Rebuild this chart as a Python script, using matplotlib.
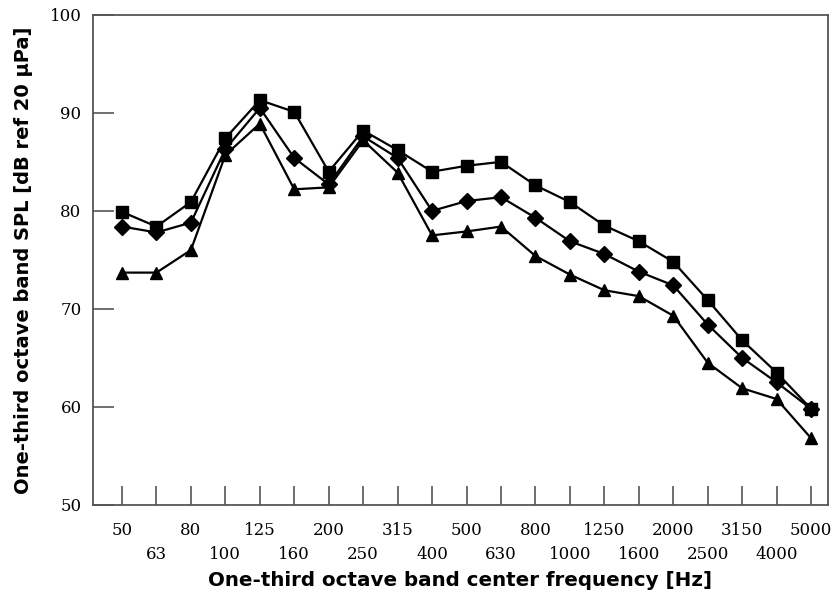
import matplotlib.pyplot as plt

# one-third octave band centre frequencies [Hz]
bands = ["50", "63", "80", "100", "125", "160", "200", "250", "315", "400",
         "500", "630", "800", "1000", "1250", "1600", "2000", "2500", "3150",
         "4000", "5000"]

# band SPL for the three conditions [dB ref 20 uPa]
spl_square = [79.9, 78.4, 80.9, 87.4, 91.3, 90.1, 84.0, 88.2, 86.2, 84.0,
              84.6, 85.0, 82.6, 80.9, 78.5, 76.9, 74.8, 70.9, 66.8, 63.5, 59.8]
spl_diamond = [78.4, 77.8, 78.8, 86.3, 90.5, 85.4, 82.7, 87.6, 85.4, 80.0,
               81.0, 81.4, 79.3, 76.9, 75.6, 73.8, 72.4, 68.4, 65.0, 62.5, 59.8]
spl_triangle = [73.7, 73.7, 76.0, 85.7, 88.9, 82.2, 82.4, 87.2, 83.9, 77.5,
                77.9, 78.4, 75.4, 73.5, 71.9, 71.3, 69.3, 64.5, 61.9, 60.8, 56.8]

serif = "DejaVu Serif"
bold_sans = "DejaVu Sans"

fig = plt.figure(figsize=(8.35, 5.94), dpi=100)
ax = fig.add_axes([0.111, 0.150, 0.881, 0.825])

x = list(range(len(bands)))
for vals, mk in [(spl_square, "s"), (spl_diamond, "D"), (spl_triangle, "^")]:
    ms = 8.5 if mk == "s" else (8 if mk == "D" else 9)
    ax.plot(x, vals, color="black", lw=1.6, marker=mk, markersize=ms)

ax.set_xlim(-0.85, 20.5)
ax.set_ylim(50, 100)

# even bands on the upper row (major ticks), odd bands on the lower row (minor)
ax.set_xticks(x[0::2])
ax.set_xticklabels(bands[0::2], fontfamily=serif, fontsize=12)
ax.set_xticks(x[1::2], minor=True)
ax.set_xticklabels(bands[1::2], minor=True, fontfamily=serif, fontsize=12)
ax.set_yticks([50, 60, 70, 80, 90, 100])
ax.set_yticklabels(["50", "60", "70", "80", "90", "100"], fontfamily=serif,
                   fontsize=12)

ax.tick_params(axis="x", which="major", direction="in", length=14, width=1.2,
               color="#555555", pad=12)
ax.tick_params(axis="x", which="minor", direction="in", length=14, width=1.2,
               color="#555555", pad=29.5)
ax.tick_params(axis="y", direction="in", length=15, width=1.2, color="#555555",
               pad=8)
for s in ax.spines.values():
    s.set_color("#555555")
    s.set_linewidth(1.3)

ax.set_xlabel("One-third octave band center frequency [Hz]", fontfamily=bold_sans,
              fontweight="bold", fontsize=14.3, labelpad=6)
ax.set_ylabel("One-third octave band SPL [dB ref 20 \u03bcPa]",
              fontfamily=bold_sans, fontweight="bold", fontsize=14, labelpad=12)

fig.savefig("out.png", dpi=100)
